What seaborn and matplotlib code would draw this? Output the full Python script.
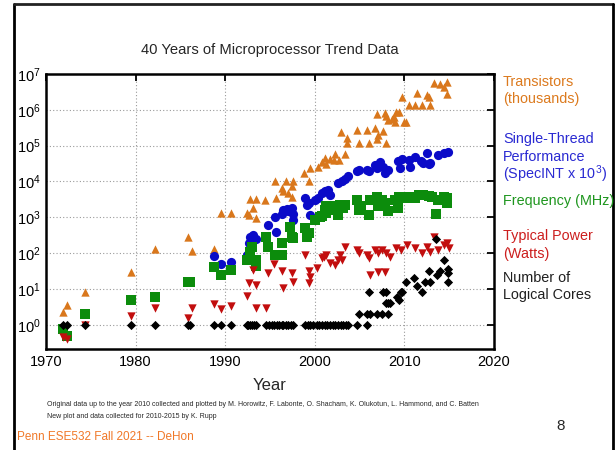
import numpy as np
import pandas as pd
import matplotlib
matplotlib.use("Agg")
import matplotlib.pyplot as plt
from matplotlib.lines import Line2D
from matplotlib.ticker import LogFormatterMathtext, NullLocator
import seaborn as sns

# Transistors (thousands)
tr_year = [1971.9, 1972.3, 1974.3, 1979.5, 1982.2, 1985.9, 1986.3, 1988.7, 1989.5, 1990.6,
           1992.4, 1992.7, 1992.8, 1993.1, 1993.4, 1993.4, 1994.4, 1995.6, 1995.7, 1996.3,
           1996.4, 1996.8, 1997.0, 1997.4, 1997.4, 1997.6, 1998.8, 1999.3, 1999.5, 2000.4,
           2000.8, 2001.1, 2001.3, 2001.7, 2002.1, 2002.3, 2002.7, 2002.9, 2003.4, 2003.6,
           2003.6, 2004.7, 2004.9, 2005.8, 2006.0, 2006.7, 2006.9, 2006.9, 2007.1, 2007.6,
           2007.8, 2007.9, 2008.0, 2008.2, 2008.6, 2008.8, 2009.0, 2009.1, 2009.4, 2009.7,
           2009.9, 2010.2, 2010.5, 2011.2, 2011.4, 2012.0, 2012.5, 2012.7, 2012.9, 2013.3,
           2014.0, 2014.4, 2014.8, 2014.8]
tr_val = [2.3, 3.5, 8, 29, 134, 290, 117, 129, 1290, 1290,
          1290, 1175, 3160, 1780, 3160, 930, 3090, 10200, 3390, 6460,
          5250, 10200, 4680, 7240, 3630, 10200, 17000, 10000, 23400, 25100,
          35500, 44700, 30000, 41700, 39800, 58900, 39800, 234000, 58900, 117000,
          162000, 275000, 117000, 275000, 117000, 302000, 158000, 760000, 200000, 251000,
          794000, 680000, 117000, 525000, 550000, 646000, 468000, 891000, 891000, 2340000,
          468000, 468000, 1350000, 1350000, 2880000, 1350000, 2570000, 2340000, 1350000, 5620000,
          5130000, 4370000, 6170000, 2750000]

# Single-thread performance (SpecINT x 1000)
st_year = [1988.7, 1989.5, 1990.6, 1992.4, 1992.7, 1992.8, 1993.1, 1993.4, 1994.8, 1995.6,
           1995.7, 1996.3, 1996.5, 1996.9, 1997.0, 1997.4, 1997.6, 1997.6, 1998.9, 1999.1,
           1999.3, 1999.5, 2000.0, 2000.4, 2000.8, 2001.1, 2001.5, 2001.7, 2002.6, 2003.0,
           2003.4, 2003.7, 2004.7, 2004.9, 2005.8, 2006.0, 2006.7, 2006.9, 2007.3, 2007.6,
           2007.8, 2008.2, 2009.3, 2009.5, 2009.7, 2010.5, 2010.6, 2011.2, 2011.8, 2012.1,
           2012.5, 2012.7, 2012.9, 2013.8, 2014.4, 2014.9]
st_val = [83, 50, 56, 89, 191, 288, 324, 245, 617, 1000,
          398, 1230, 1620, 1660, 1450, 1780, 1230, 851, 3390, 2240,
          2450, 1170, 3020, 3390, 4680, 5250, 5750, 4170, 9330, 10000,
          11700, 14500, 19100, 20900, 20900, 19100, 28800, 23400, 33900, 25700,
          17000, 20900, 38000, 23400, 41700, 39800, 25700, 46800, 36300, 32400,
          61700, 30900, 32400, 55000, 61700, 67600]

# Frequency (MHz)
fq_year = [1971.9, 1972.3, 1974.3, 1979.5, 1982.2, 1985.8, 1986.1, 1988.7, 1989.5, 1990.6,
           1992.4, 1992.8, 1993.0, 1993.4, 1993.4, 1994.6, 1994.8, 1995.6, 1996.3, 1996.3,
           1997.2, 1997.4, 1997.6, 1998.9, 1999.1, 1999.3, 2000.0, 2000.6, 2000.8, 2001.1,
           2001.3, 2001.3, 2001.7, 2002.3, 2002.6, 2002.8, 2003.2, 2003.4, 2004.7, 2004.9,
           2005.2, 2006.0, 2006.2, 2006.9, 2007.1, 2007.5, 2007.8, 2008.2, 2008.9, 2009.3,
           2009.4, 2010.1, 2010.5, 2011.2, 2011.6, 2012.1, 2012.7, 2013.1, 2013.5, 2013.8,
           2014.4, 2014.8, 2014.8]
fq_val = [0.75, 0.5, 2, 5, 6, 16, 16, 40, 25, 34,
          65, 110, 150, 65, 43, 290, 150, 90, 190, 90,
          550, 290, 263, 500, 290, 363, 850, 1050, 1100, 1620,
          2000, 1300, 2000, 1620, 1170, 2240, 1780, 2240, 3090, 1620,
          2000, 1170, 3090, 3800, 2000, 3090, 2450, 1450, 3090, 1780,
          3800, 3390, 3800, 3390, 4170, 4170, 3980, 3800, 1230, 3020,
          3800, 3390, 2450]

# Typical power (Watts)
pw_year = [1971.9, 1972.3, 1974.3, 1979.5, 1982.2, 1985.9, 1986.3, 1988.7, 1989.5, 1990.6,
           1992.4, 1992.7, 1993.1, 1993.4, 1993.4, 1994.6, 1994.8, 1995.4, 1996.3, 1996.5,
           1997.4, 1997.6, 1998.9, 1999.3, 1999.5, 1999.3, 2000.2, 2000.8, 2001.0, 2001.3,
           2001.7, 2002.3, 2002.6, 2002.8, 2003.0, 2003.4, 2004.7, 2004.9, 2005.8, 2006.0,
           2006.2, 2006.7, 2007.1, 2007.1, 2007.5, 2007.8, 2008.0, 2008.4, 2009.1, 2009.6,
           2010.3, 2011.2, 2012.0, 2012.5, 2012.9, 2013.3, 2013.8, 2014.4, 2014.8, 2015.0]
pw_val = [0.45, 0.4, 1, 1.7, 2.9, 1.5, 2.9, 3.9, 2.7, 3.4,
          6.2, 14.5, 34, 13, 3, 2.9, 28, 50, 31, 10.5,
          28, 16, 89, 31, 22, 14.5, 38, 72, 80, 89,
          52, 47, 65, 89, 65, 150, 123, 100, 89, 72,
          25, 123, 100, 30, 123, 30, 100, 80, 138, 123,
          170, 138, 100, 150, 110, 290, 123, 170, 190, 138]

# Number of logical cores
co_year = [1971.9, 1972.3, 1974.3, 1979.5, 1982.2, 1985.8, 1986.1, 1988.7, 1989.5, 1990.6,
           1992.4, 1992.6, 1992.8, 1993.0, 1993.2, 1993.4, 1994.6, 1994.9, 1995.2, 1995.5,
           1995.8, 1996.0, 1996.3, 1996.5, 1996.8, 1997.0, 1997.3, 1997.6, 1998.9, 1999.2,
           1999.5, 1999.8, 2000.2, 2000.5, 2000.8, 2001.1, 2001.4, 2001.7, 2002.0, 2002.3,
           2002.6, 2002.9, 2003.2, 2003.5, 2003.7, 2004.7, 2005.8,
           2004.9, 2005.8, 2006.2, 2006.9, 2007.5, 2008.2, 2006.0, 2007.6, 2008.0, 2007.9,
           2008.2, 2008.4, 2009.2, 2009.4, 2009.6, 2009.7, 2010.2, 2011.1, 2011.4, 2012.0,
           2012.3, 2012.8, 2012.9, 2013.5, 2013.6, 2014.0, 2014.4, 2014.9, 2014.9, 2014.9]
co_val = [1] * 47 + [2, 2, 2, 2, 2, 2, 8, 8, 8, 4,
                     4, 4, 6, 5, 8, 8, 16, 20, 12, 8,
                     16, 32, 16, 240, 24, 32, 64, 36, 28, 16]

x_ticks = [1970, 1980, 1990, 2000, 2010, 2020]
y_ticks = [1, 10, 100, 1e3, 1e4, 1e5, 1e6, 1e7]

metrics = ["Transistors", "Single-Thread", "Frequency", "Power", "Cores"]
colors = ["#d9771c", "#0a0ac8", "#0c8c0c", "#c20e0e", "#000000"]
marks = ["^", "o", "s", "v", "D"]

df = pd.concat([
    pd.DataFrame({"year": tr_year, "value": tr_val, "metric": "Transistors"}),
    pd.DataFrame({"year": st_year, "value": st_val, "metric": "Single-Thread"}),
    pd.DataFrame({"year": fq_year, "value": fq_val, "metric": "Frequency"}),
    pd.DataFrame({"year": pw_year, "value": pw_val, "metric": "Power"}),
    pd.DataFrame({"year": co_year, "value": co_val, "metric": "Cores"}),
], ignore_index=True)

sns.set_style("white")
plt.rcParams["font.family"] = ["Liberation Sans", "DejaVu Sans"]
plt.rcParams["mathtext.default"] = "regular"

fig = plt.figure(figsize=(6.16, 4.5), dpi=100)
ax = fig.add_axes([46 / 616, 1 - 349 / 450, 448 / 616, 275 / 450])

sizes = {"Transistors": 36, "Single-Thread": 44, "Frequency": 44, "Power": 36, "Cores": 22}
for m, c, mk in zip(metrics, colors, marks):
    sub = df[df["metric"] == m]
    sns.scatterplot(data=sub, x="year", y="value", color=c, marker=mk,
                    s=sizes[m], linewidth=0, ax=ax, zorder=3)

ax.set_yscale("log")
ax.set_xlim(1970, 2020)
ax.set_ylim(0.21, 1e7)
ax.set_xticks(x_ticks)
ax.set_yticks(y_ticks)
ax.yaxis.set_major_formatter(LogFormatterMathtext())
ax.yaxis.set_minor_locator(NullLocator())
ax.tick_params(direction="in", length=5, width=1.3, top=True, right=True,
               labelsize=10.5, pad=4, colors="black")
ax.grid(True, which="major", color="#9a9a9a", linestyle=(0, (1, 2)), linewidth=0.8)
for sp in ax.spines.values():
    sp.set_linewidth(1.8)
    sp.set_color("black")
ax.set_xlabel("")
ax.set_ylabel("")

fig.text(270 / 616, 1 - 50 / 450, "40 Years of Microprocessor Trend Data",
         ha="center", va="center", fontsize=10.6)
fig.text(270 / 616, 1 - 386 / 450, "Year", ha="center", va="center", fontsize=12)

# series labels on the right
labels = [
    ("Transistors", 82, 0), ("(thousands)", 99, 0),
    ("Single-Thread", 139, 1), ("Performance", 157, 1), ("(SpecINT x 10$^3$)", 174, 1),
    ("Frequency (MHz)", 201, 2),
    ("Typical Power", 236, 3), ("(Watts)", 254, 3),
    ("Number of", 278, 4), ("Logical Cores", 295, 4),
]
text_colors = ["#dc7a1e", "#2a2ad2", "#1e961e", "#cc1e1e", "#202020"]
for txt, ypx, ci in labels:
    fig.text(503 / 616, 1 - ypx / 450, txt, ha="left", va="center",
             fontsize=10.4, color=text_colors[ci])

fig.text(47 / 616, 1 - 405 / 450,
         "Original data up to the year 2010 collected and plotted by M. Horowitz, F. Labonte, "
         "O. Shacham, K. Olukotun, L. Hammond, and C. Batten",
         ha="left", va="center", fontsize=5)
fig.text(47 / 616, 1 - 416 / 450, "New plot and data collected for 2010-2015 by K. Rupp",
         ha="left", va="center", fontsize=5)
fig.text(561 / 616, 1 - 426 / 450, "8", ha="center", va="center", fontsize=11)
fig.text(17 / 616, 1 - 437 / 450, "Penn ESE532 Fall 2021 -- DeHon",
         ha="left", va="center", fontsize=8.5, color="#f07828")

# slide frame
fx0, fx1, fy1 = 14 / 616, 613 / 616, 1 - 4 / 450
fig.add_artist(Line2D([fx0, fx0], [0, fy1], color="black", lw=2))
fig.add_artist(Line2D([fx0, fx1], [fy1, fy1], color="#222222", lw=2))
fig.add_artist(Line2D([fx1, fx1], [0, fy1], color="black", lw=2))

fig.savefig("out.png", dpi=100)
